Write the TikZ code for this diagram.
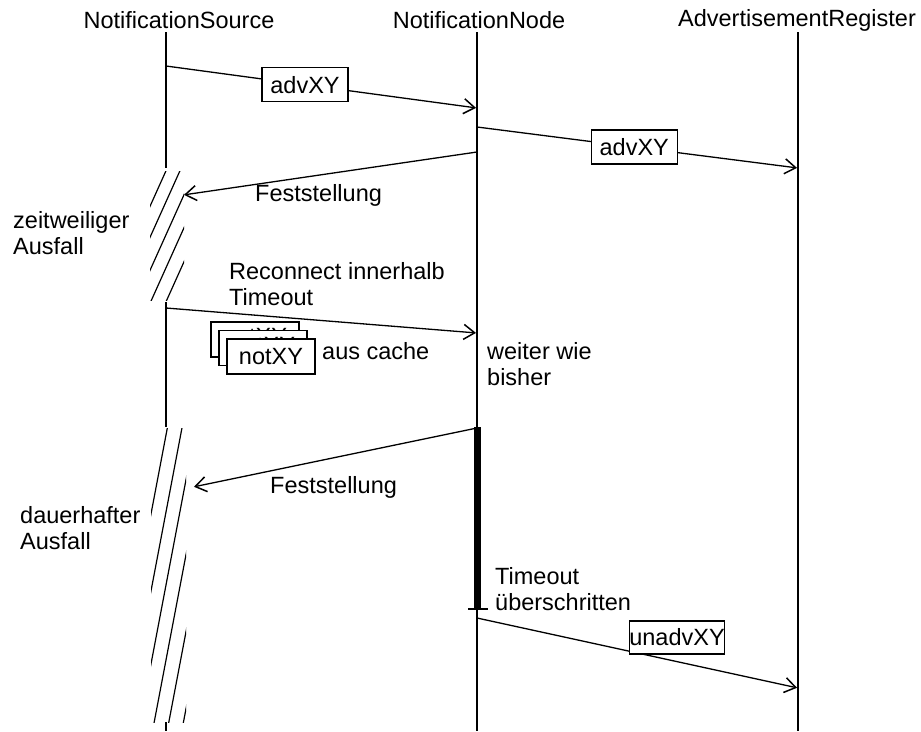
\documentclass[tikz,border=0pt]{standalone}
\usepackage{fontspec}
\setmainfont{Liberation Sans}
\usetikzlibrary{arrows.meta}
\begin{document}
\begin{tikzpicture}[x=1pt,y=-1pt,
  font=\fontsize{23.5}{26}\selectfont,
  lifeline/.style={line width=2.4pt},
  activation/.style={line width=7pt},
  msg/.style={line width=1.3pt,shorten >=1pt,
    -{Straight Barb[length=11pt,width=15pt,line width=1.5pt]}},
  msgbox/.style={draw,line width=1.3pt,fill=white,minimum width=86pt,
    minimum height=34pt,inner sep=0pt},
  cachebox/.style={msgbox,minimum width=88pt,minimum height=35pt},
  lbl/.style={inner sep=0pt,align=left,anchor=west},
  brk/.style={line width=1.2pt}]

\useasboundingbox (0,0) rectangle (921,731);

% participants
\node (hsrc) at (179,20) {NotificationSource};
\node (hnode) at (479,20) {NotificationNode};
\node (hreg) at (797,20) {AdvertisementRegister};

% lifelines
\draw[lifeline] (166,32) -- (166,168);
\draw[lifeline] (166,302) -- (166,427);
\draw[lifeline] (166,722) -- (166,731);
\draw[lifeline] (477,32) -- (477,731);
\draw[lifeline] (798,32) -- (798,731);
\draw[activation] (477.5,427) -- (477.5,609);
\draw[line width=1.3pt] (468,609) -- (488,609);

% break marks on the source lifeline
\begin{scope}
  \clip (150,171) rectangle (184,300);
  \foreach \y in {133,164,197,230,264}
    \draw[brk] (183+0.45*40,\y-40) -- (183-0.45*100,\y+100);
\end{scope}
\begin{scope}
  \clip (151,428) rectangle (186,722);
  \foreach \y in {335,412,485,560,637,714}
    \draw[brk] (185+0.19*60,\y-60) -- (185-0.19*220,\y+220);
\end{scope}

% message end points
\coordinate (s1) at (166,66);  \coordinate (n1) at (477,108);
\coordinate (n2) at (477,127); \coordinate (r2) at (798,168);
\coordinate (n3) at (477,152); \coordinate (s3) at (183,195);
\coordinate (s4) at (166,308); \coordinate (n4) at (477,333);
\coordinate (n5) at (477,428); \coordinate (s5) at (193,487);
\coordinate (n6) at (477,618); \coordinate (r6) at (798,688);

% messages
\draw[msg] (s1) -- node[msgbox,pos=0.447] (b1) {advXY} (n1);
\draw[msg] (n2) -- node[msgbox,pos=0.49] (b2) {advXY} (r2);
\draw[msg] (n3) -- (s3);
\node[lbl] (f1) at (255,195) {Feststellung};
\draw[msg] (s4) -- (n4);
\node[lbl] (rc) at (229,284.5) {Reconnect innerhalb\\Timeout};
\draw[msg] (n5) -- (s5);
\node[lbl] (f2) at (270,487) {Feststellung};
\draw[msg] (n6) -- (r6);
\node[msgbox,minimum width=94pt,minimum height=33pt] (b6) at (677,637.5) {unadvXY};

% cached notifications, stacked
\node[cachebox] (c1) at (255,339.5) {};
\node[inner sep=0pt] (t1) at (255,337) {notXY};
\node[cachebox] (c2) at (263,348) {};
\node[inner sep=0pt] (t2) at (263,345.5) {notXY};
\node[cachebox] (c3) at (271,356.5) {notXY};
\node[lbl] (cache) at (322,351) {aus cache};

% annotations
\node[lbl] (zw) at (13,233.5) {zeitweiliger\\Ausfall};
\node[lbl] (dh) at (20,528.5) {dauerhafter\\Ausfall};
\node[lbl] (ww) at (487,364.5) {weiter wie\\bisher};
\node[lbl] (to) at (495,589.5) {Timeout\\überschritten};
\end{tikzpicture}
\end{document}
